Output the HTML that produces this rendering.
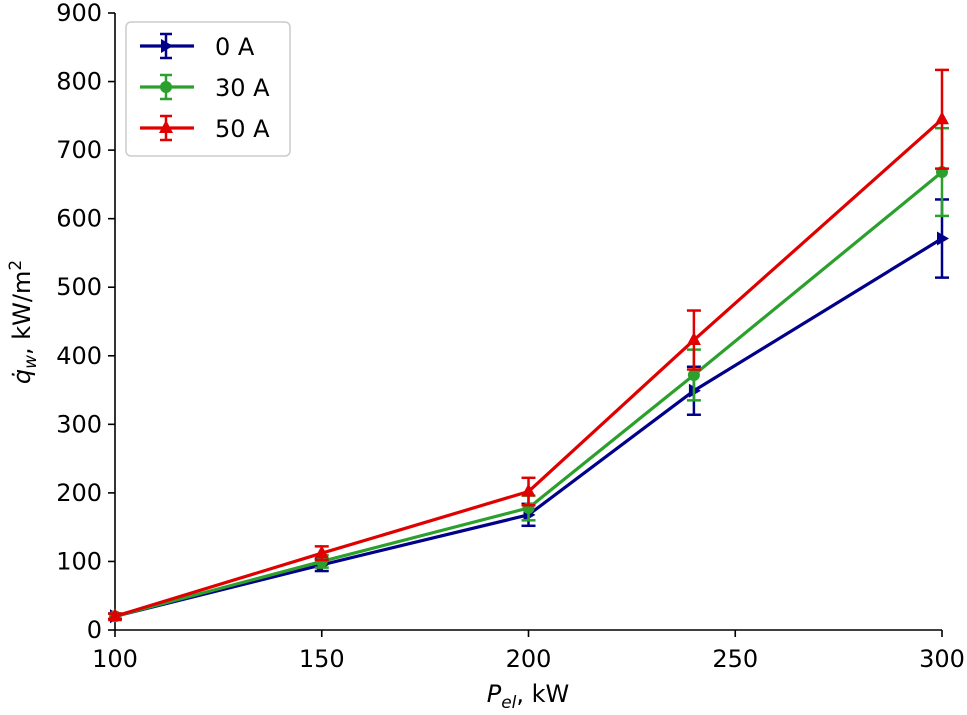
<!DOCTYPE html>
<html><head><meta charset="utf-8"><style>
body{margin:0;background:#fff}
svg text{font-family:"DejaVu Sans","Liberation Sans",sans-serif;fill:#000}
</style></head><body>
<svg id="chart" width="967" height="710">
<g id="axes"></g>
<g id="series"></g>
<g id="legend"></g>
</svg>
<script>
const xValues=[100,150,200,240,300];
const seriesNames=["0 A","30 A","50 A"];
const s0=[20,95,168,349,571];
const s1=[20,100,178,372,668];
const s2=[20,112,202,423,745];
const e0=[4,9,16,35,57];
const e1=[4,9,18,37,64];
const e2=[4,10,20,43,72];
const xTicks=[100,150,200,250,300];
const yTicks=[0,100,200,300,400,500,600,700,800,900];
const colors=["#00008b","#2ca02c","#e00000"];
const NS="http://www.w3.org/2000/svg";
const X=v=>115+(v-100)/200*827;
const Y=v=>630-v/900*617;
function mk(tag,attrs,parent){const e=document.createElementNS(NS,tag);for(const k in attrs)e.setAttribute(k,attrs[k]);parent.appendChild(e);return e;}
const ax=document.getElementById('axes');
let l=mk('line',{x1:115,y1:13,x2:115,y2:630,stroke:'#000','stroke-width':1.6},ax);

l=mk('line',{x1:115,y1:630,x2:942,y2:630,stroke:'#000','stroke-width':1.6},ax);

xTicks.forEach(t=>{
 mk('line',{x1:X(t),y1:630,x2:X(t),y2:637,stroke:'#000','stroke-width':1.6},ax);
 const tx=mk('text',{x:X(t),y:667,'text-anchor':'middle','font-size':24},ax);tx.textContent=t;
 
 
});
yTicks.forEach(t=>{
 mk('line',{x1:108,y1:Y(t),x2:115,y2:Y(t),stroke:'#000','stroke-width':1.6},ax);
 const tx=mk('text',{x:102,y:Y(t)+8,'text-anchor':'end','font-size':24},ax);tx.textContent=t;
 
 
});
let xt=mk('text',{x:528,y:702,'text-anchor':'middle','font-size':24},ax);
xt.innerHTML='<tspan font-style="italic">P</tspan><tspan font-style="italic" font-size="17" dy="6">el</tspan><tspan dy="-6">, kW</tspan>';

let yt=mk('text',{x:0,y:0,'text-anchor':'middle','font-size':24,transform:'translate(30,322) rotate(-90)'},ax);
yt.innerHTML='<tspan font-style="italic">q̇</tspan><tspan font-style="italic" font-size="17" dy="6">w</tspan><tspan dy="-6">, kW/m</tspan><tspan font-size="17" dy="-9">2</tspan>';

const sg=document.getElementById('series');
const data=[s0,s1,s2],errs=[e0,e1,e2];
function marker(i,x,y,g){
 if(i===0)return mk('polygon',{points:`${x-5},${y-7} ${x+7},${y} ${x-5},${y+7}`,fill:colors[i]},g);
 if(i===1)return mk('circle',{cx:x,cy:y,r:6,fill:colors[i]},g);
 return mk('polygon',{points:`${x},${y-8} ${x+7},${y+5} ${x-7},${y+5}`,fill:colors[i]},g);
}
data.forEach((d,i)=>{
 const g=mk('g',{},sg);
 
 
 const p=mk('polyline',{points:d.map((v,j)=>X(xValues[j])+','+Y(v)).join(' '),fill:'none',stroke:colors[i],'stroke-width':3.2},g);
 
 d.forEach((v,j)=>{
  const x=X(xValues[j]),e=errs[i][j];
  mk('line',{x1:x,y1:Y(v-e),x2:x,y2:Y(v+e),stroke:colors[i],'stroke-width':2.5},g);
  mk('line',{x1:x-7,y1:Y(v-e),x2:x+7,y2:Y(v-e),stroke:colors[i],'stroke-width':2.5},g);
  mk('line',{x1:x-7,y1:Y(v+e),x2:x+7,y2:Y(v+e),stroke:colors[i],'stroke-width':2.5},g);
  const m=marker(i,x,Y(v),g);
  
 });
});
const lg=document.getElementById('legend');
const box=mk('rect',{x:126,y:22,width:164,height:134,rx:5,fill:'#fff',stroke:'#ccc','stroke-width':1.5},lg);

seriesNames.forEach((n,i)=>{
 const g=mk('g',{},lg);
 
 const y=46+i*41,x=166;
 mk('line',{x1:140,y1:y,x2:194,y2:y,stroke:colors[i],'stroke-width':3.2},g);
 mk('line',{x1:x,y1:y-12,x2:x,y2:y+12,stroke:colors[i],'stroke-width':2.5},g);
 mk('line',{x1:x-6,y1:y-12,x2:x+6,y2:y-12,stroke:colors[i],'stroke-width':2.5},g);
 mk('line',{x1:x-6,y1:y+12,x2:x+6,y2:y+12,stroke:colors[i],'stroke-width':2.5},g);
 marker(i,x,y,g);
 const t=mk('text',{x:215,y:y+9,'font-size':24},g);t.textContent=n;
});
</script>
</body></html>
